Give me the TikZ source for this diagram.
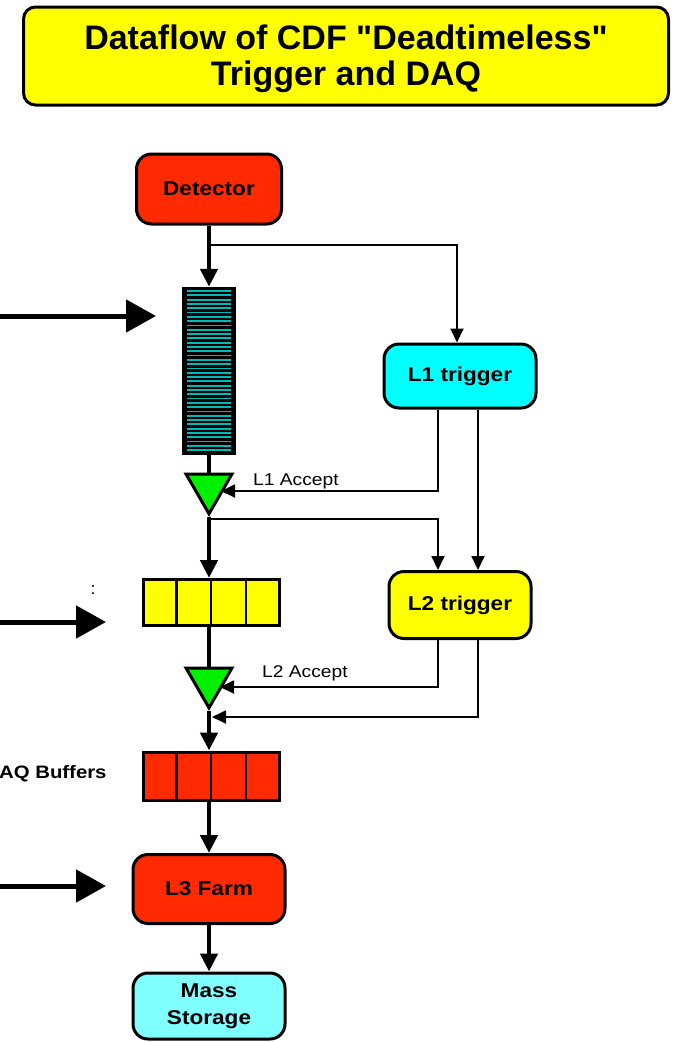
\documentclass[tikz,border=0pt]{standalone}
\usepackage{fontspec}
\setmainfont{Liberation Sans}
\newfontfamily\titlefont{Liberation Sans}
\newfontfamily\widefont[FakeStretch=1.13]{Liberation Sans}
\usetikzlibrary{arrows.meta,shapes.geometric,calc}
\definecolor{cdfred}{RGB}{255,42,0}
\definecolor{cdfcyan}{RGB}{0,255,255}
\definecolor{cdflcyan}{RGB}{128,255,255}
\definecolor{cdfyellow}{RGB}{255,255,0}
\definecolor{cdfgreen}{RGB}{0,240,0}
\definecolor{stripecol}{RGB}{0,185,185}
\begin{document}
\begin{tikzpicture}[x=1pt,y=-1pt,
 box/.style={draw,line width=3pt,rounded corners=15pt,font=\widefont\bfseries\fontsize{20}{27}\selectfont,align=center,inner sep=0pt},
 flow/.style={line width=4.5pt,-{Triangle[length=18pt,width=17pt]}},
 flowline/.style={line width=4.5pt},
 sig/.style={line width=1.8pt,-{Triangle[length=14pt,width=13pt]}},
 bigarrow/.style={line width=5pt,-{Triangle[length=30pt,width=32pt]}},
 buffer/.style={draw,line width=3pt,minimum width=136pt,minimum height=46pt,inner sep=0pt},
 gate/.style={draw,line width=3pt,fill=cdfgreen,regular polygon,regular polygon sides=3,shape border rotate=180,minimum size=53pt,inner sep=0pt},
 lab/.style={font=\widefont\fontsize{17}{20}\selectfont,inner sep=0pt}
]
\useasboundingbox (0,0) rectangle (677,1042);
% title
\node[box,fill=cdfyellow,minimum width=645pt,minimum height=98pt,rounded corners=12pt,font=\titlefont\bfseries\fontsize{34}{36}\selectfont] (titlebox) at (346,56) {};
\node[font=\titlefont\bfseries\fontsize{34}{36}\selectfont,align=center,inner sep=0pt] (title) at (346,59) {Dataflow of CDF "Deadtimeless"\\Trigger and DAQ};
% main column
\node[box,fill=cdfred,minimum width=145pt,minimum height=70pt] (det) at (209,189) {Detector};
\node[draw=black,line width=1.5pt,fill=black,minimum width=52pt,minimum height=167pt,inner sep=0pt] (pipe) at (209,371) {};
\foreach \i in {0,...,37} \draw[stripecol,line width=1.8pt] (187,{291+\i*4.3}) -- (231,{291+\i*4.3});
\node[gate] (gate1) at (209,487.3) {};
\node[buffer,fill=cdfyellow] (buf1) at (211,602.5) {};
\foreach \f in {0.25,0.5,0.75} \draw[line width=2.5pt] ($(buf1.north west)!\f!(buf1.north east)$) -- ($(buf1.south west)!\f!(buf1.south east)$);
\node[gate] (gate2) at (209,681.3) {};
\node[buffer,fill=cdfred,minimum height=48pt] (buf2) at (211,776) {};
\foreach \f in {0.25,0.5,0.75} \draw[line width=2.5pt] ($(buf2.north west)!\f!(buf2.north east)$) -- ($(buf2.south west)!\f!(buf2.south east)$);
\node[box,fill=cdfred,minimum width=152pt,minimum height=69pt] (l3) at (209,889) {L3 Farm};
\node[box,fill=cdflcyan,minimum width=152pt,minimum height=66pt] (mass) at (209,1006) {Mass\\Storage};
% triggers
\node[box,fill=cdfcyan,minimum width=152pt,minimum height=64pt] (l1) at (460,376) {L1 trigger};
\node[box,fill=cdfyellow,minimum width=142pt,minimum height=67pt] (l2) at (460,605) {L2 trigger};
% main flow
\draw[flow] (det) -- (pipe);
\draw[flowline] (pipe) -- (gate1);
\draw[flow] (gate1.south) -- (gate1.south |- buf1.north);
\draw[flowline] (gate1.south |- buf1.south) -- (gate2);
\draw[flow] (gate2.south) -- (gate2.south |- buf2.north);
\draw[flow] (gate2.south |- buf2.south) -- (l3);
\draw[flow] (l3) -- (mass);
% signals
\coordinate (split1) at (209,245);
\draw[sig] (split1) -| ([xshift=-3pt]l1.north);
\coordinate (acc1) at (221,491);
\draw[sig] ([xshift=-22pt]l1.south) |- (acc1);
\draw[sig] ([xshift=18pt]l1.south) -- ([xshift=18pt]l2.north);
\coordinate (split2) at (209,519);
\draw[sig] (split2) -| ([xshift=-22pt]l2.north);
\coordinate (acc2) at (220,687);
\draw[sig] ([xshift=-22pt]l2.south) |- (acc2);
\coordinate (join) at (212,717);
\draw[sig] ([xshift=18pt]l2.south) |- (join);
\node[lab,anchor=west] (acc1lab) at (253,481) {L1 Accept};
\node[lab,anchor=west] (acc2lab) at (262,673) {L2 Accept};
% inputs from the left
\coordinate (in1) at (-5,316); \coordinate (in1e) at (156,316);
\draw[bigarrow] (in1) -- (in1e);
\coordinate (in2) at (-5,622); \coordinate (in2e) at (106,622);
\draw[bigarrow] (in2) -- (in2e);
\coordinate (in3) at (-5,886); \coordinate (in3e) at (106,886);
\draw[bigarrow] (in3) -- (in3e);
\node[lab] (colon) at (93,590) {:};
\node[font=\widefont\bfseries\fontsize{18}{20}\selectfont,anchor=west,inner sep=0pt] (daq) at (-1,774) {AQ Buffers};
\end{tikzpicture}
\end{document}
